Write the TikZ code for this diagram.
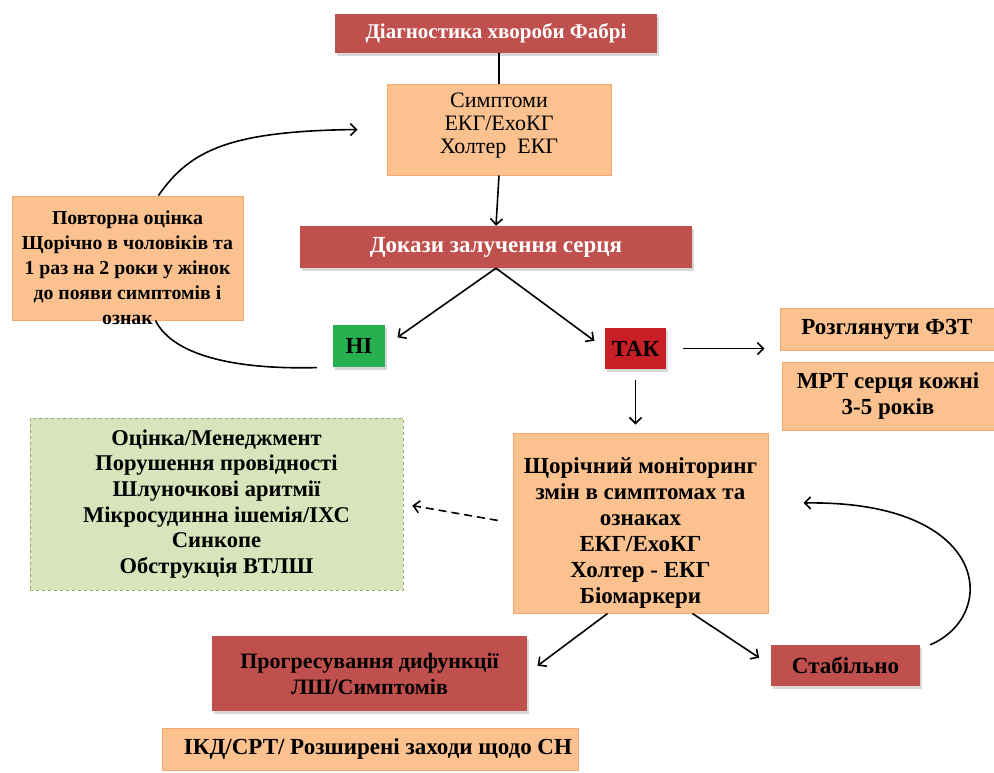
\documentclass[tikz,border=0pt]{standalone}
\usepackage{fontspec}
\setmainfont{Liberation Serif}
\usepackage{tikz}
\usetikzlibrary{arrows.meta,shadows}
\definecolor{brick}{RGB}{192,80,77}
\definecolor{crimson}{RGB}{200,30,38}
\definecolor{leaf}{RGB}{38,176,80}
\definecolor{peach}{RGB}{251,194,144}
\definecolor{peachline}{RGB}{244,168,108}
\definecolor{lime}{RGB}{216,228,188}
\definecolor{limeline}{RGB}{150,170,110}
\tikzset{>={Straight Barb[length=6pt,width=12pt]}}
\tikzset{
  boxshadow/.style={drop shadow={opacity=0.3,shadow xshift=2pt,shadow yshift=-3pt}},
  redbox/.style={fill=brick,draw=none,align=center,inner sep=0pt,boxshadow,
    font=\fontsize{22}{26}\selectfont\bfseries},
  peachbox/.style={fill=peach,draw=peachline,line width=1pt,align=center,inner sep=0pt,
    font=\fontsize{23}{26}\selectfont\bfseries},
  limebox/.style={fill=lime,draw=limeline,dashed,line width=0.8pt,align=center,inner sep=0pt,
    font=\fontsize{22.5}{25.6}\selectfont\bfseries},
  tagbox/.style={draw=none,inner sep=0pt,boxshadow,font=\fontsize{23}{24}\selectfont\bfseries},
  link/.style={line width=1.6pt,->},
}

\begin{document}
\begin{tikzpicture}[x=1pt,y=-1pt]
  \useasboundingbox[fill=white] (0,0) rectangle (994,772);

  \node[redbox,text=white,font=\fontsize{21}{25}\selectfont\bfseries,minimum width=322pt,minimum height=39pt] (title) at (496,33.5) {Діагностика хвороби Фабрі};
  \node[peachbox,font=\fontsize{22}{23}\selectfont,minimum width=224pt,minimum height=91pt] (symp) at (499,129.5)
    {Симптоми\\ ЕКГ/ЕхоКГ\\ Холтер\ \ ЕКГ\rule[-12pt]{0pt}{1pt}};
  \node[redbox,text=white,font=\fontsize{23}{25}\selectfont\bfseries,minimum width=392pt,minimum height=42pt] (proof) at (496,247) {Докази залучення серця};
  \node[peachbox,minimum width=231pt,minimum height=124pt] (retest) at (127.5,258) {};
  \node[align=center,inner sep=0pt,font=\fontsize{19.8}{25}\selectfont\bfseries] (retesttext) at (127.5,268)
    {Повторна оцінка\\ Щорічно в чоловіків та\\ 1 раз на 2 роки у жінок\\ до появи симптомів і\\ ознак};
  \node[tagbox,fill=leaf,minimum width=52pt,minimum height=42pt] (ni) at (359,346) {НІ};
  \node[tagbox,fill=crimson,minimum width=61pt,minimum height=41pt] (tak) at (635.5,348.5) {ТАК};
  \node[peachbox,minimum width=214pt,minimum height=42pt] (fzt) at (887,329) {Розглянути ФЗТ};
  \node[peachbox,minimum width=212pt,minimum height=68pt] (mrt) at (888,396) {МРТ серця кожні\\ 3-5 років};
  \node[peachbox,minimum width=255pt,minimum height=180pt] (monitor) at (640.5,523)
    {\rule{0pt}{36pt}Щорічний моніторинг\\ змін в симптомах та\\ ознаках\\ ЕКГ/ЕхоКГ\\ Холтер - ЕКГ\\ Біомаркери};
  \node[limebox,minimum width=373pt,minimum height=172pt] (manage) at (216.5,504)
    {Оцінка/Менеджмент\\ Порушення провідності\\ Шлуночкові аритмії\\ Мікросудинна ішемія/ІХС\\ Синкопе\\ Обструкція ВТЛШ};
  \node[redbox,minimum width=315pt,minimum height=75pt] (progress) at (369.5,673.5)
    {Прогресування дифункції\\ ЛШ/Симптомів};
  \node[redbox,font=\fontsize{23}{25}\selectfont\bfseries,minimum width=149pt,minimum height=41pt] (stable) at (845.5,665.5) {Стабільно};
  \node[peachbox,minimum width=416pt,minimum height=42pt] (icd) at (370,749) {\hspace{16pt}ІКД/СРТ/ Розширені заходи щодо СН};

  \draw[line width=1.6pt] (title.south -| symp.north) -- (symp.north);
  \draw[link] (symp.south) -- (proof.north);
  \draw[link,shorten >=15pt] (proof.south) -- (ni.east);
  \draw[link,shorten >=13pt] (proof.south) -- (tak.west);
  \draw[link,shorten <=17pt,shorten >=15pt] (tak.east) -- (tak.east -| fzt.west);
  \draw[link,shorten <=11pt,shorten >=8pt] (tak.south) -- (tak.south |- monitor.north);
  \draw[link,dash pattern=on 8pt off 5pt,shorten <=15pt,shorten >=9pt] (monitor.west) -- (manage.east);
  \draw[link,shorten >=13pt] ([xshift=-33pt]monitor.south) -- (progress.east);
  \draw[link,shorten >=14pt] ([xshift=52pt]monitor.south) -- (stable.west);
  \draw[line width=1.6pt,shorten <=16pt] (ni.south west) .. controls (220,370) and (170,350) .. ([xshift=28pt]retest.south);
  \draw[link] ([xshift=31pt]retest.north) .. controls (190,150) and (230,131) .. ([xshift=-29pt]symp.west);
  \draw[link] ([xshift=10pt]stable.north east) .. controls (1000,615) and (990,500) .. ([xshift=35pt,yshift=20pt]monitor.east);
\end{tikzpicture}
\end{document}
